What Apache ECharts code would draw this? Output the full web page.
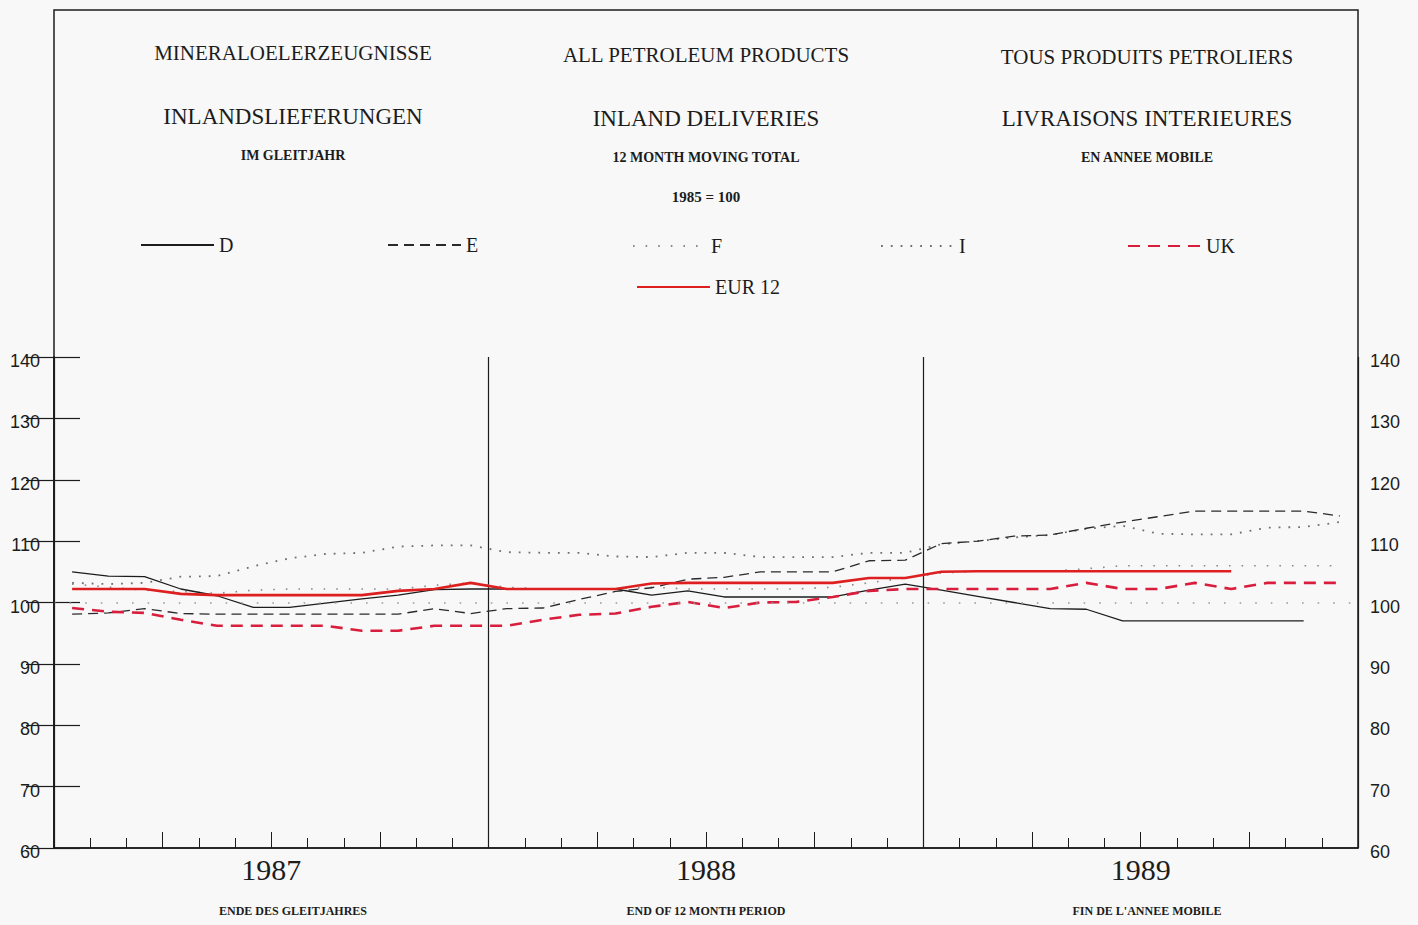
<!DOCTYPE html>
<html>
<head>
<meta charset="utf-8">
<script src="https://cdn.jsdelivr.net/npm/echarts@6/dist/echarts.min.js"></script>
<style>
html,body{margin:0;padding:0;background:#f8f8f8;}
#chart{width:1418px;height:925px;}
</style>
</head>
<body>
<div id="chart"></div>
<script>
// ---- data (12 month moving total, 1985 = 100) ----
const months = [
  'Jan 87','Feb 87','Mar 87','Apr 87','May 87','Jun 87','Jul 87','Aug 87','Sep 87','Oct 87','Nov 87','Dec 87',
  'Jan 88','Feb 88','Mar 88','Apr 88','May 88','Jun 88','Jul 88','Aug 88','Sep 88','Oct 88','Nov 88','Dec 88',
  'Jan 89','Feb 89','Mar 89','Apr 89','May 89','Jun 89','Jul 89','Aug 89','Sep 89','Oct 89','Nov 89','Dec 89'
];
const years = ['1987', '1988', '1989'];
const yTicks = [60, 70, 80, 90, 100, 110, 120, 130, 140];

const seriesD = [105.0,104.3,104.2,102.2,101.1,99.2,99.2,99.9,100.6,101.2,102.1,102.2,
                 102.2,102.2,102.2,102.2,101.2,101.9,100.9,100.9,100.9,100.9,102.0,103.0,
                 102.0,101.0,100.0,99.0,98.9,97.0,97.0,97.0,97.0,97.0,97.0,null];
const seriesE = [98.1,98.3,99.0,98.2,98.1,98.1,98.1,98.1,98.1,98.1,99.0,98.2,
                 99.0,99.1,100.5,101.8,102.4,103.8,104.1,105.0,105.0,105.0,106.8,106.9,
                 109.6,110.0,110.8,111.0,112.1,113.1,114.0,114.9,114.9,114.9,114.9,114.1];
const seriesF = [103.0,102.5,102.0,101.8,101.5,102.0,102.2,102.2,102.2,102.2,102.8,103.2,
                 102.5,102.2,102.2,102.2,102.5,102.2,102.2,102.2,102.2,102.5,103.2,104.0,
                 104.8,105.1,105.1,105.1,105.5,106.0,106.0,106.0,106.0,106.0,106.0,106.0];
const seriesI = [103.2,103.0,103.2,104.2,104.3,105.9,107.2,107.9,108.1,109.1,109.3,109.3,
                 108.2,108.1,108.1,107.5,107.4,108.1,108.1,107.4,107.4,107.4,108.1,108.1,
                 109.5,110.0,110.6,111.0,112.0,112.5,111.2,111.1,111.1,112.2,112.3,113.1];
const seriesUK = [99.1,98.5,98.3,97.2,96.2,96.2,96.2,96.2,95.4,95.4,96.2,96.2,
                  96.2,97.2,98.0,98.2,99.3,100.1,99.1,100.0,100.1,100.9,101.9,102.2,
                  102.2,102.2,102.2,102.2,103.2,102.2,102.2,103.2,102.2,103.2,103.2,103.2];
const seriesEUR = [102.2,102.2,102.2,101.4,101.2,101.2,101.2,101.2,101.2,101.9,102.2,103.2,
                   102.2,102.2,102.2,102.2,103.1,103.2,103.2,103.2,103.2,103.2,104.0,104.0,
                   105.0,105.1,105.1,105.1,105.1,105.1,105.1,105.1,105.1,null,null,null];
const baseValue = 100;

const titleDE = ['MINERALOELERZEUGNISSE', 'INLANDSLIEFERUNGEN', 'IM GLEITJAHR'];
const titleEN = ['ALL PETROLEUM PRODUCTS', 'INLAND DELIVERIES', '12 MONTH MOVING TOTAL', '1985 = 100'];
const titleFR = ['TOUS PRODUITS PETROLIERS', 'LIVRAISONS INTERIEURES', 'EN ANNEE MOBILE'];
const footer = ['ENDE DES GLEITJAHRES', 'END OF 12 MONTH PERIOD', "FIN DE L'ANNEE MOBILE"];

// ---- chart ----
const SERIF = "'Liberation Serif', 'DejaVu Serif', serif";
const INK = '#1c1c1c';
const chart = echarts.init(document.getElementById('chart'), null, {renderer: 'svg'});

function txt(t, x, y, size, weight) {
  return {type: 'text', x: x, y: y, silent: true,
    style: {text: t, font: (weight || 'normal') + ' ' + size + 'px ' + SERIF, fill: INK,
            textAlign: 'center', textVerticalAlign: 'middle', align: 'center', verticalAlign: 'middle'}};
}

const cols = [293, 706, 1147];
const graphics = [
  {type: 'rect', silent: true, z: 10, shape: {x: 54, y: 10, width: 1304, height: 838},
   style: {fill: 'none', stroke: INK, lineWidth: 1.5}},
  txt(titleDE[0], cols[0], 53, 21), txt(titleDE[1], cols[0], 116, 23), txt(titleDE[2], cols[0], 155, 14, 'bold'),
  txt(titleEN[0], cols[1], 55, 21), txt(titleEN[1], cols[1], 118, 23), txt(titleEN[2], cols[1], 157, 14, 'bold'),
  txt(titleEN[3], cols[1], 197, 15, 'bold'),
  txt(titleFR[0], cols[2], 57, 21), txt(titleFR[1], cols[2], 118, 23), txt(titleFR[2], cols[2], 157, 14, 'bold'),
  txt(footer[0], cols[0], 911, 12, 'bold'), txt(footer[1], cols[1], 911, 12, 'bold'), txt(footer[2], cols[2], 911, 12, 'bold')
];

function leg(name, left, top) {
  return {data: [name], left: left, top: top, padding: 0, itemWidth: 73, itemHeight: 20,
          itemStyle: {opacity: 0, borderWidth: 0},
          textStyle: {fontFamily: SERIF, fontSize: 20, color: INK, lineHeight: 20, padding: [10, 0, 0, 0]}};
}

const hiddenAxis = {show: true, position: 'bottom', axisLine: {show: false}, axisLabel: {show: false}, splitLine: {show: false}};
const yLabel = {fontFamily: "'Liberation Sans', Arial, sans-serif", fontSize: 18, color: INK,
                verticalAlign: 'top', lineHeight: 8};

chart.setOption({
  backgroundColor: '#f8f8f8',
  animation: false,
  graphic: graphics,
  legend: [
    leg('D', 140, 230), leg('E', 387, 230), leg('F', 632, 231), leg('I', 880, 231),
    leg('UK', 1127, 231), leg('EUR 12', 636, 272)
  ],
  grid: {left: 54, right: 60, top: 357, bottom: 77, containLabel: false},
  xAxis: [
    {type: 'category', position: 'bottom', data: months, boundaryGap: true,
     axisLine: {show: true, lineStyle: {color: INK, width: 1.5}},
     axisTick: {show: false}, axisLabel: {show: false}, splitLine: {show: false}},
    Object.assign({type: 'value', min: 0, max: 36, interval: 1,
     axisTick: {show: true, inside: true, length: 10, lineStyle: {color: INK, width: 1}}}, hiddenAxis),
    Object.assign({type: 'value', min: 0, max: 36, interval: 3,
     axisTick: {show: true, inside: true, length: 16, lineStyle: {color: INK, width: 1}}}, hiddenAxis),
    {type: 'value', position: 'bottom', min: 0, max: 36, interval: 12, axisLine: {show: false}, axisLabel: {show: false},
     axisTick: {show: false}, splitLine: {show: true, lineStyle: {color: INK, width: 1.2}}},
    {type: 'category', position: 'bottom', data: years, boundaryGap: true, axisLine: {show: false}, axisTick: {show: false},
     axisLabel: {show: true, margin: 6, fontFamily: SERIF, fontSize: 30, color: INK}, splitLine: {show: false}}
  ],
  yAxis: [
    {type: 'value', position: 'left', min: yTicks[0], max: yTicks[yTicks.length - 1], interval: 10,
     axisLine: {show: true, lineStyle: {color: INK, width: 1.5}},
     axisTick: {show: true, inside: true, length: 26, lineStyle: {color: INK, width: 1.2}},
     axisLabel: Object.assign({margin: 14}, yLabel),
     splitLine: {show: false}},
    {type: 'value', position: 'right', min: yTicks[0], max: yTicks[yTicks.length - 1], interval: 10,
     axisLine: {show: true, lineStyle: {color: INK, width: 1.5}},
     axisTick: {show: true, inside: true, length: 28, lineStyle: {color: INK, width: 1.2}},
     axisLabel: Object.assign({margin: 12}, yLabel),
     splitLine: {show: false}}
  ],
  series: [
    {name: 'F', type: 'line', data: seriesF, symbol: 'none', z: 2,
     lineStyle: {color: '#8a8a8a', width: 1.6, type: [1.6, 11]}, itemStyle: {color: '#8a8a8a'},
     markLine: {silent: true, symbol: 'none', label: {show: false},
       lineStyle: {color: '#9a9a9a', width: 1.6, type: [1.6, 14]}, data: [{yAxis: baseValue}]}},
    {name: 'I', type: 'line', data: seriesI, symbol: 'none', z: 2,
     lineStyle: {color: '#6f6f6f', width: 1.8, type: [1.8, 8]}, itemStyle: {color: '#6f6f6f'}},
    {name: 'E', type: 'line', data: seriesE, symbol: 'none', z: 3,
     lineStyle: {color: '#2a2a2a', width: 1.3, type: [10, 6]}, itemStyle: {color: '#2a2a2a'}},
    {name: 'D', type: 'line', data: seriesD, symbol: 'none', z: 3,
     lineStyle: {color: '#1c1c1c', width: 1.3, type: 'solid'}, itemStyle: {color: '#1c1c1c'}},
    {name: 'UK', type: 'line', data: seriesUK, symbol: 'none', z: 4,
     lineStyle: {color: '#d81e3c', width: 2.6, type: [12, 8]}, itemStyle: {color: '#d81e3c'}},
    {name: 'EUR 12', type: 'line', data: seriesEUR, symbol: 'none', z: 5,
     lineStyle: {color: '#dd1f1f', width: 2.6, type: 'solid'}, itemStyle: {color: '#dd1f1f'}}
  ]
});
</script>
</body>
</html>
